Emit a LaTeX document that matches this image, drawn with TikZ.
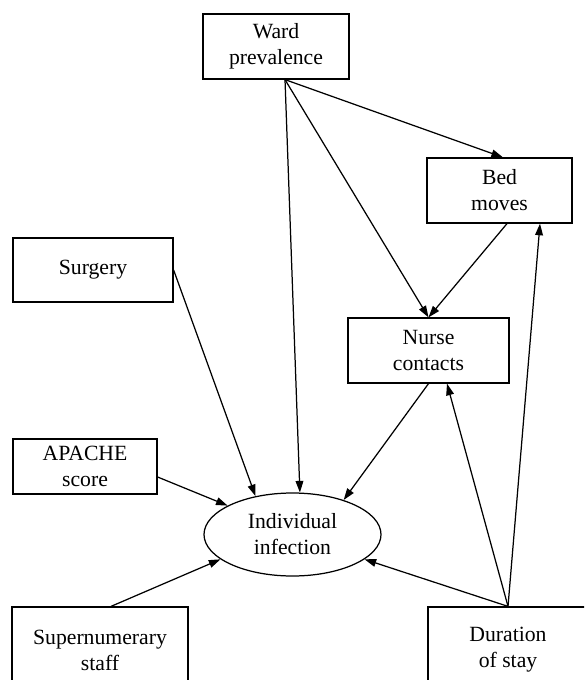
\documentclass[tikz,border=0pt]{standalone}
\usepackage{fontspec}
\setmainfont{Liberation Serif}
\usetikzlibrary{arrows.meta,shapes.geometric}
\newlength\pxu
\setlength\pxu{0.645pt}
\begin{document}
\begin{tikzpicture}[x=0.645pt,y=-0.645pt,
  every node/.style={font=\fontsize{14pt}{16.8pt}\selectfont, align=center, inner sep=0pt, line width=0.8pt},
  box/.style={draw, rectangle},
  oval/.style={draw, ellipse},
  link/.style={line width=0.8pt, -{Triangle[length=7.5pt,width=5pt]}}]
\useasboundingbox (0,0) rectangle (584,680);
\clip (0,0) rectangle (584,680);
\fill[white] (0,0) rectangle (584,680);

\node[box, minimum width=146\pxu, minimum height=65\pxu] (ward) at (276,46.5) {Ward\\prevalence};
\node[box, minimum width=145\pxu, minimum height=65\pxu] (bed) at (499.5,190.5) {Bed\\moves};
\node[box, minimum width=161\pxu, minimum height=65\pxu] (nurse) at (428.5,350.5) {Nurse\\contacts};
\node[box, minimum width=160\pxu, minimum height=64\pxu] (surg) at (93,270) {Surgery};
\node[box, minimum width=144\pxu, minimum height=55\pxu] (apache) at (85,466.5) {APACHE\\score};
\node[oval, minimum width=177\pxu, minimum height=83\pxu] (inf) at (292.5,534.5) {Individual\\infection};
\node[box, minimum width=176\pxu, minimum height=86\pxu] (super) at (100,650) {Supernumerary\\staff};
\node[box, minimum width=160\pxu, minimum height=86\pxu] (dur) at (508,650) {Duration\\of stay};

\draw[link] ([xshift=9\pxu]ward.south) -- ([xshift=3.5\pxu]bed.north);
\draw[link] ([xshift=9\pxu]ward.south) -- (nurse.north);
\draw[link] ([xshift=9\pxu]ward.south) -- (inf.80);
\draw[link] ([xshift=7.5\pxu]bed.south) -- (nurse.north);
\draw[link] (nurse.south) -- (inf.34);
\draw[link] (surg.east) -- (inf.134);
\draw[link] ([yshift=-10.5\pxu]apache.east) -- (inf.156);
\draw[link] ([xshift=11\pxu]super.north) -- (inf.199);
\draw[link] (dur.north) -- (inf.341);
\draw[link] (dur.north) -- ([xshift=18.5\pxu]nurse.south);
\draw[link] (dur.north) -- ([xshift=40.5\pxu]bed.south);
\end{tikzpicture}
\end{document}
